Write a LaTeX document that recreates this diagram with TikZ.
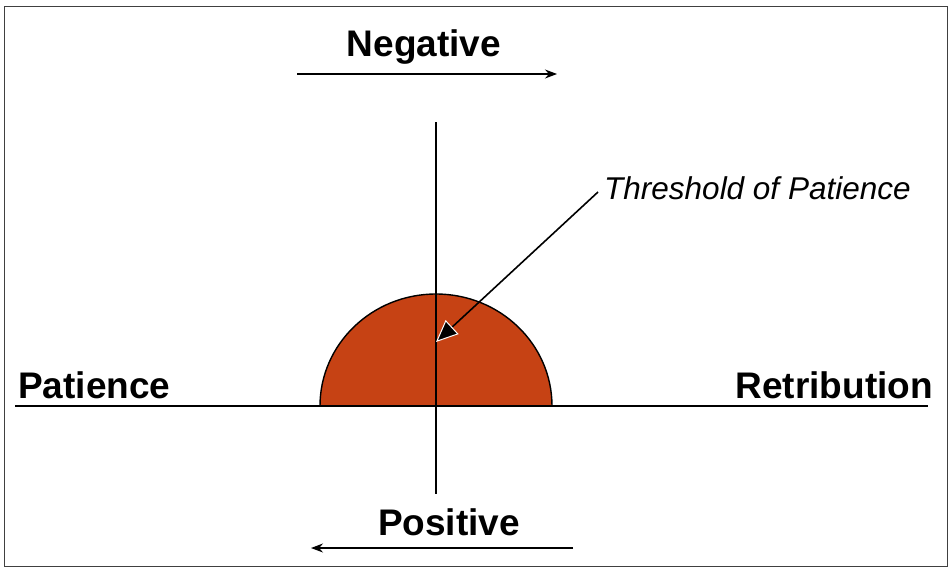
\documentclass[tikz,border=0pt]{standalone}
\usepackage{fontspec}
\setmainfont{Liberation Sans}
\usetikzlibrary{arrows.meta}
\definecolor{dome}{RGB}{198,66,20}
\begin{document}
\begin{tikzpicture}[x=1pt,y=-1pt,
  axis/.style={line width=1.6pt,black},
  bigl/.style={font=\fontsize{37}{42}\selectfont\bfseries,inner sep=0pt},
  dirarrow/.style={line width=1.2pt,-{Stealth[length=12pt,width=9pt]}},
  ptr/.style={line width=1.6pt,-{Triangle[length=22pt,width=19pt,fill=black,color=white,line width=1pt]}}]
\useasboundingbox (0,0) rectangle (952,570);
\draw[line width=1pt,black!75] (4,6) rectangle (947,566);
% dome
\fill[dome,draw=black,line width=1.4pt] (320,406) arc[start angle=180,end angle=360,x radius=116,y radius=112] -- cycle;
% axes
\coordinate (hl) at (15,406);
\coordinate (hr) at (928,406);
\coordinate (vt) at (436,122);
\coordinate (vb) at (436,494);
\draw[axis] (hl) -- (hr);
\draw[axis] (vt) -- (vb);
% labels
\node[bigl,anchor=west] (pat) at (18,385) {Patience};
\node[bigl,anchor=east] (ret) at (933,385) {Retribution};
\node[bigl] (neg) at (424,47) {Negative};
\node[bigl] (pos) at (449,522) {Positive};
\coordinate (na) at (297,74);
\coordinate (nb) at (557,74);
\draw[dirarrow] (na) -- (nb);
\coordinate (pa) at (573,548);
\coordinate (pb) at (311,548);
\draw[dirarrow] (pa) -- (pb);
\node[font=\fontsize{31.5}{37}\selectfont\itshape,anchor=west,inner sep=0pt] (thr) at (604,188) {Threshold of Patience};
\coordinate (tp) at (436,342);
\draw[ptr] (thr.west) ++(-6,4) coordinate (ts) (ts) -- (tp);
\end{tikzpicture}
\end{document}
